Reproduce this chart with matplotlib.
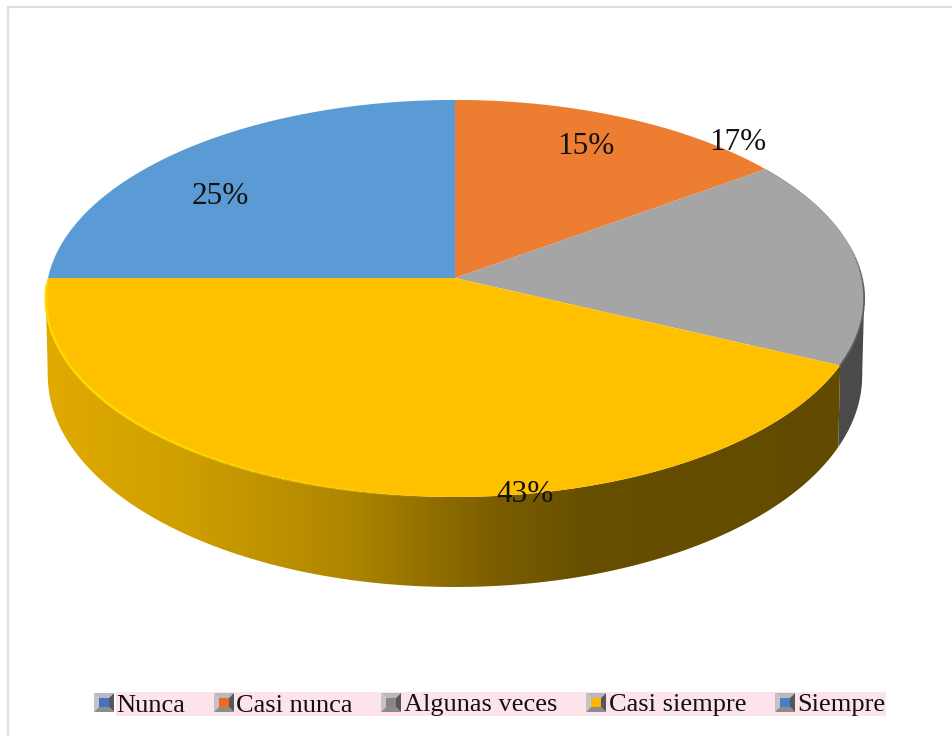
import numpy as np
import matplotlib.pyplot as plt
from matplotlib.colors import LinearSegmentedColormap
from matplotlib.patches import Polygon, Rectangle

categories = ["Nunca", "Casi nunca", "Algunas veces", "Casi siempre", "Siempre"]
values = [25, 15, 17, 43, 0]
colors = ["#5B9BD5", "#ED7D31", "#A5A5A5", "#FFC000", "#4472C4"]
legend_inner = ["#4472C4", "#ED6A1F", "#8C8388", "#FFB400", "#4A80C0"]

label_pos = {"Nunca": (220, 197), "Casi nunca": (586, 147),
             "Algunas veces": (738, 143), "Casi siempre": (525, 494)}
legend_marker_x = [94, 214, 381, 586, 775]
legend_text_x = [116, 236, 404, 609, 797]

plt.rcParams["font.family"] = ["Liberation Serif", "DejaVu Serif"]

fig = plt.figure(figsize=(9.53, 7.36), dpi=100)
ax = fig.add_axes([0, 0, 1, 1])
ax.set_xlim(0, 953)
ax.set_ylim(736, 0)
ax.axis("off")


# pie seen in perspective, frac 0 = top, going clockwise
def rim(frac, cy, a, b, k=0.103):
    t = 2 * np.pi * np.asarray(frac)
    x = np.sin(t)
    y = np.cos(t)
    w = 1 + k * y
    return np.column_stack([455 + a * x / w, cy - b * y / w])


def top(frac):
    return rim(frac, 278, 407, 196.4)


def bottom(frac):
    return rim(frac, 354, 405, 209)


# first slice starts at 9 o'clock
starts = np.cumsum([0] + values[:-1]) / 100 + 0.75
ends = np.cumsum(values) / 100 + 0.75

# walls, gray one then yellow one
for i in [2, 3]:
    f = np.linspace(starts[i], ends[i], 200)
    t_rim, b_rim = top(f), bottom(f)
    pts = np.vstack([t_rim, b_rim[::-1]])
    if i == 2:
        ax.add_patch(Polygon(pts, closed=True, fc="#4A4A4A", ec="none", zorder=2))
        # straight side of the cylinder
        side = [t_rim[t_rim[:, 0].argmax()], b_rim[b_rim[:, 0].argmax()], t_rim[-1]]
        ax.add_patch(Polygon(side, closed=True, fc="#4A4A4A", ec="none", zorder=2))
    else:
        side = [t_rim[t_rim[:, 0].argmin()], b_rim[b_rim[:, 0].argmin()], (110, 380)]
        ax.add_patch(Polygon(side, closed=True, fc="#E0AA00", ec="none", zorder=2))
        wall = Polygon(pts, closed=True, fc="none", ec="none", zorder=2)
        ax.add_patch(wall)
        cmap = LinearSegmentedColormap.from_list("wall", [
            (0.0, "#E0AA00"), (0.16, "#D0A000"), (0.26, "#C29400"), (0.38, "#AE8600"),
            (0.49, "#8F6D00"), (0.57, "#7A5D00"), (0.68, "#664F00"), (1.0, "#624A00")])
        grad = np.linspace(0, 1, 400).reshape(1, -1)
        im = ax.imshow(grad, cmap=cmap, extent=[45, 845, 600, 270], aspect="auto", zorder=2)
        im.set_clip_path(wall)

ax.set_xlim(0, 953)
ax.set_ylim(736, 0)

# top faces
for i in range(4):
    f = np.linspace(starts[i], ends[i], 200)
    pts = np.vstack([[[455, 278]], top(f)])
    ax.add_patch(Polygon(pts, closed=True, fc=colors[i], ec="none", zorder=3))

# bright edge on the yellow rim fading to the right, dark edge on the gray one
f = np.linspace(0.5, 0.745, 60)
p = top(f)
for j in range(len(p) - 1):
    ax.plot(p[j:j + 2, 0], p[j:j + 2, 1], color="#FFD800", lw=1.8,
            alpha=min(1, j / 30), solid_capstyle="round", zorder=4)
f = np.linspace(0.22, 0.32, 30)
p = top(f)
for j in range(len(p) - 1):
    ax.plot(p[j:j + 2, 0], p[j:j + 2, 1], color="#5E5E5E", lw=1.2,
            alpha=min(1, j / 12), solid_capstyle="round", zorder=4)

# percent labels
for name, val in zip(categories, values):
    if val > 0:
        ax.text(*label_pos[name], f"{val}%", fontsize=22.5, ha="center", va="center",
                color="#111111", zorder=5)

# frame
ax.plot([8, 8], [736, 7], color="#DDDDDD", lw=1.6, zorder=1)
ax.plot([8, 953], [7, 7], color="#DDDDDD", lw=1.6, zorder=1)

# legend
ax.add_patch(Rectangle((116, 692), 770, 24, fc="#FDE3EA", ec="none", zorder=1))
for name, mx, tx, c in zip(categories, legend_marker_x, legend_text_x, legend_inner):
    x0, x1, y0, y1 = mx, mx + 20, 693, 712
    ix0, ix1, iy0, iy1 = mx + 5, mx + 15, 698, 707
    ax.add_patch(Polygon([(x0, y0), (x1, y0), (ix1, iy0), (ix0, iy0)], fc="#B9B9BD", zorder=3))
    ax.add_patch(Polygon([(x0, y0), (ix0, iy0), (ix0, iy1), (x0, y1)], fc="#C4C4C8", zorder=3))
    ax.add_patch(Polygon([(x0, y1), (ix0, iy1), (ix1, iy1), (x1, y1)], fc="#8C8C90", zorder=3))
    ax.add_patch(Polygon([(x1, y0), (ix1, iy0), (ix1, iy1), (x1, y1)], fc="#55575A", zorder=3))
    ax.add_patch(Rectangle((ix0, iy0), ix1 - ix0, iy1 - iy0, fc=c, ec="none", zorder=4))
    ax.text(tx, 703, name, fontsize=19, ha="left", va="center_baseline", color="#111111", zorder=5)

fig.savefig("out.png", dpi=100)
